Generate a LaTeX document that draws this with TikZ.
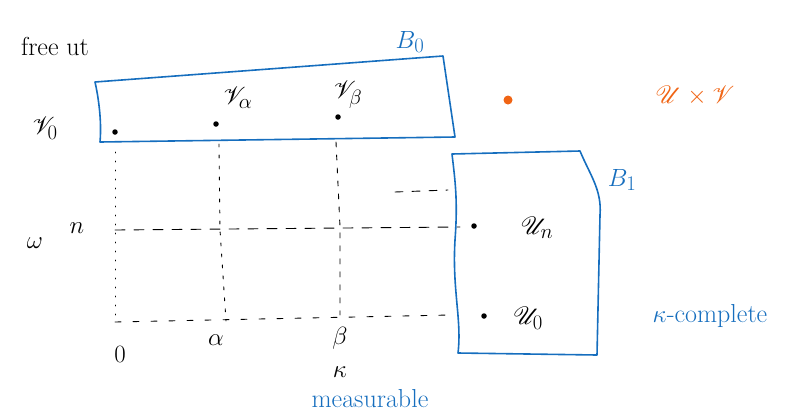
\documentclass[tikz,border=0pt]{standalone}
\usepackage{amsmath,amssymb}
\usepackage{mathrsfs}
\definecolor{penblue}{RGB}{22,110,190}
\definecolor{penorange}{RGB}{240,100,20}
\newcommand\hwbig{\fontsize{30}{32}\selectfont}
\newcommand\hwmid{\fontsize{26}{28}\selectfont}
\begin{document}
\begin{tikzpicture}[x=1pt,y=-1pt,
  box/.style={draw=penblue,line width=1.6pt,line join=round},
  pt/.style={circle,fill=black,inner sep=0pt,minimum size=5.5pt},
  lbl/.style={inner sep=1pt,font=\hwbig},
  blab/.style={inner sep=1pt,text=penblue,font=\hwmid},
  grid/.style={line width=0.9pt,dash pattern=on 1pt off 8pt,line cap=round},
  gridh/.style={line width=0.9pt,dash pattern=on 10pt off 9pt,line cap=round}]
\useasboundingbox (0,0) rectangle (794,413);
% boxes
\draw[box] (95,82) -- (443,56) -- (455,137) -- (100,142) .. controls (102,120) and (98,95) .. cycle;
\draw[box] (452,154) -- (580,151) .. controls (590,175) and (602,190) .. (600,215) -- (597,355) -- (458,353)
  .. controls (462,320) and (452,290) .. (455,240) .. controls (458,200) and (455,180) .. cycle;
% points
\node[pt] (v0) at (115,132) {};
\node[pt] (va) at (216,124) {};
\node[pt] (vb) at (338,117) {};
\node[pt] (un) at (474,226) {};
\node[pt] (u0) at (484,316) {};
\node[circle,fill=penorange,inner sep=0pt,minimum size=9pt] (od) at (508,100) {};
% grid coordinates
\coordinate (g00) at (115,322);
\coordinate (ga0) at (226,321);
\coordinate (gb0) at (340,315);
\coordinate (gn0) at (115,230);
\coordinate (gna) at (220,230);
\coordinate (gnb) at (340,227);
\coordinate (gnr) at (460,227);
\coordinate (g0r) at (450,315);
\coordinate (gtl) at (395,192);
\coordinate (gtr) at (448,190);
\coordinate (v0t) at (115,152);
\coordinate (vat) at (219,144);
\coordinate (vbt) at (336,142);
% grid lines
\draw[grid] (v0t) -- (g00);
\draw[grid,dash pattern=on 3pt off 8pt] (vat) -- (gna) -- (ga0);
\draw[grid,dash pattern=on 5pt off 8pt] (vbt) -- (gnb) -- (gb0);
\draw[gridh] (gn0) -- (gnr);
\draw[grid,dash pattern=on 6pt off 12pt] (g00) -- (g0r);
\draw[grid,dash pattern=on 8pt off 9pt] (gtl) -- (gtr);
% labels
\node[lbl,font=\hwmid] (free) at (55,46) {free ut};
\node[blab,font=\hwbig] (b0) at (410,42) {$B_0$};
\node[blab,font=\hwbig] (b1) at (622,180) {$B_1$};
\node[lbl] (lv0) at (45,128) {$\mathscr{V}_0$};
\node[lbl] (lva) at (238,98) {$\mathscr{V}_\alpha$};
\node[lbl] (lvb) at (348,95) {$\mathscr{V}_\beta$};
\node[lbl] (lun) at (537,228) {$\mathscr{U}_n$};
\node[lbl] (lu0) at (528,318) {$\mathscr{U}_0$};
\node[lbl,text=penorange] (uv) at (695,96) {$\mathscr{U}\times\mathscr{V}$};
\node[blab] (kc) at (710,316) {$\kappa$-complete};
\node[lbl] (om) at (35,243) {$\omega$};
\node[lbl,font=\hwmid] (ln) at (77,228) {$n$};
\node[lbl] (l0) at (120,354) {$0$};
\node[lbl] (la) at (216,340) {$\alpha$};
\node[lbl] (lb) at (340,338) {$\beta$};
\node[lbl] (lk) at (340,372) {$\kappa$};
\node[blab,anchor=base] (meas) at (370,407) {measurable};
\end{tikzpicture}
\end{document}
